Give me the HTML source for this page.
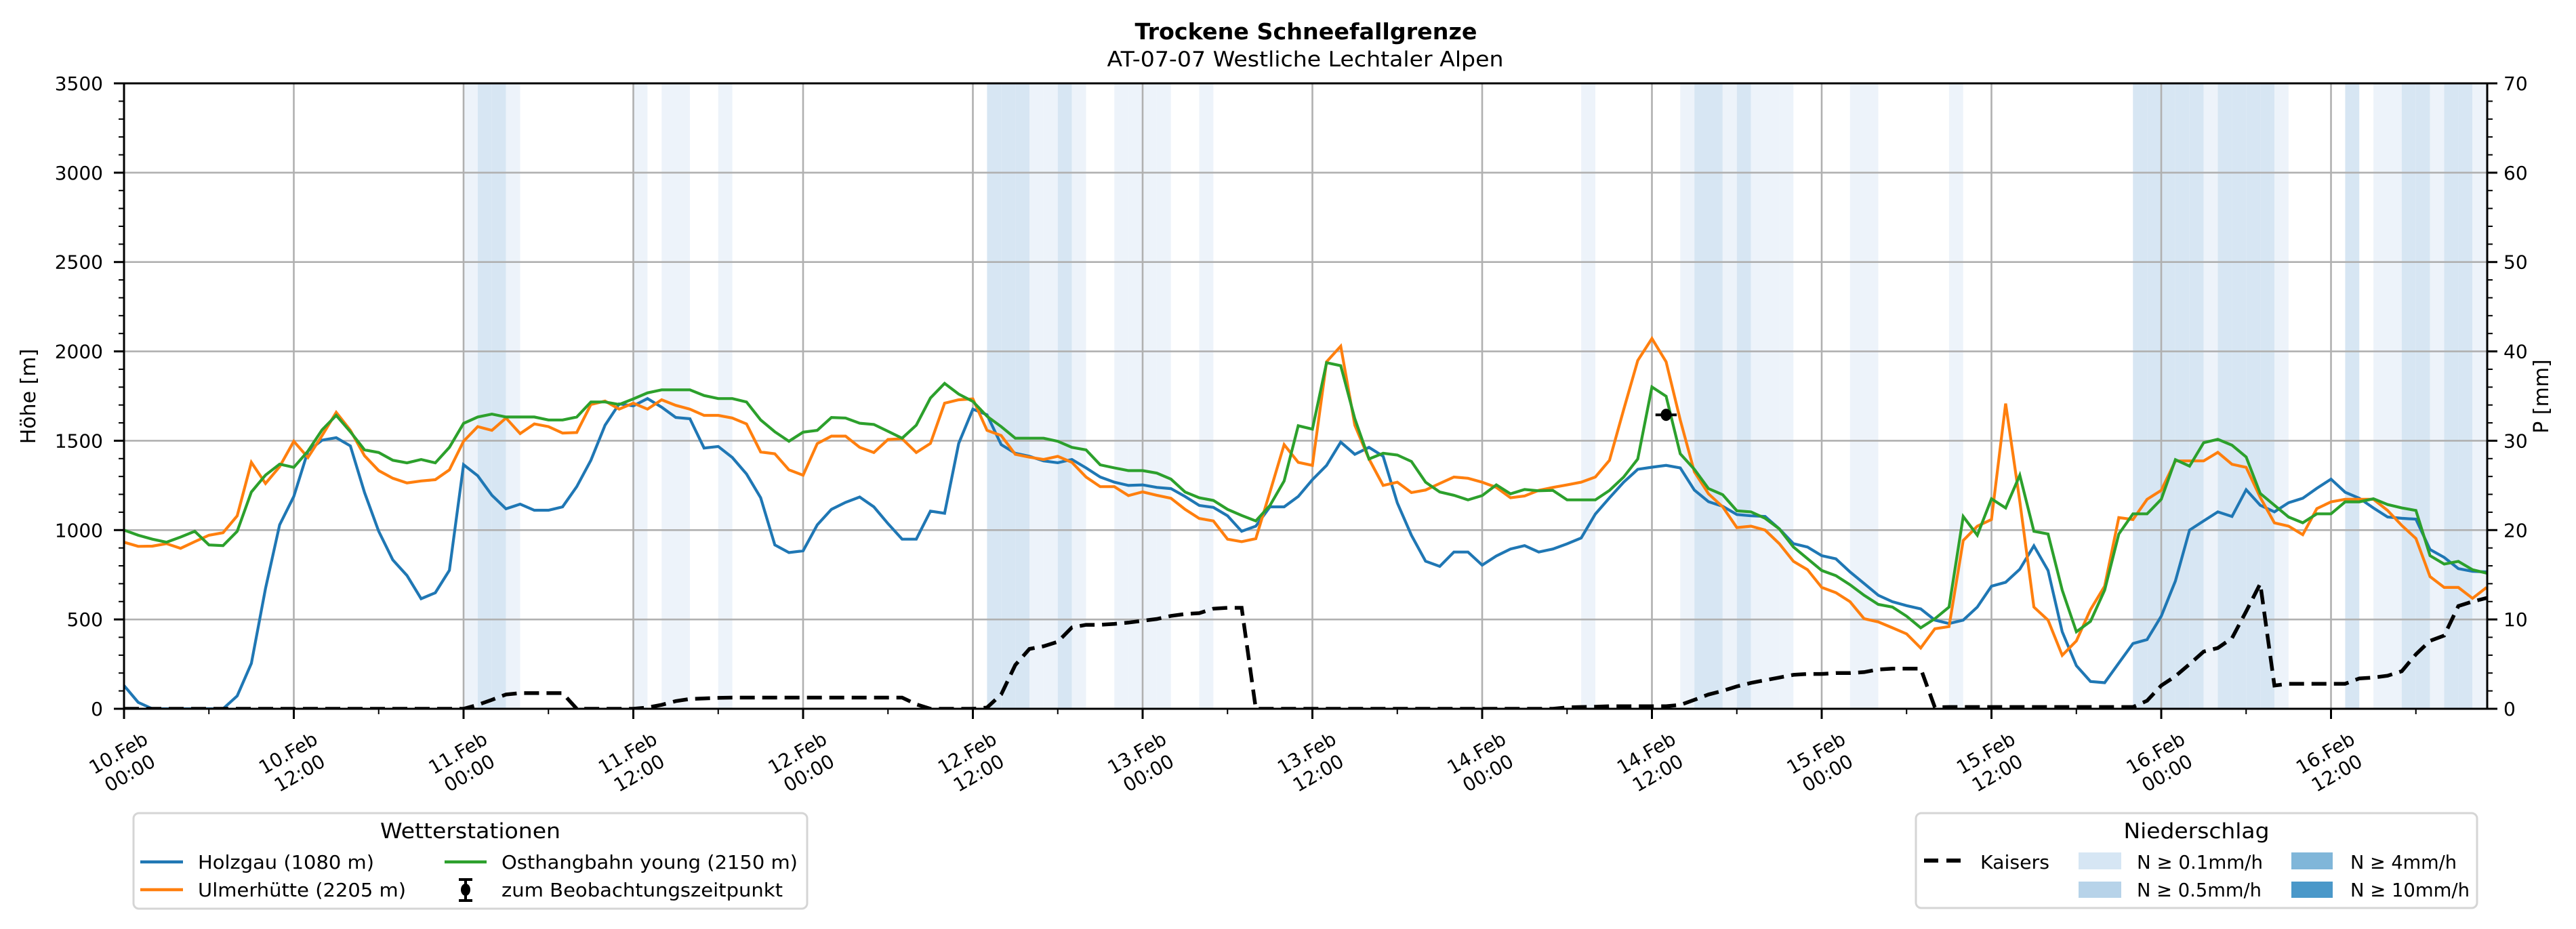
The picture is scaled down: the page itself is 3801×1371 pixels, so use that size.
<!DOCTYPE html>
<html><head><meta charset="utf-8"><title>Trockene Schneefallgrenze</title>
<style>
html,body{margin:0;padding:0;background:#fff;}
svg{display:block;font-family:"DejaVu Sans","Liberation Sans",sans-serif;}
</style></head>
<body>
<svg id="chart" xmlns="http://www.w3.org/2000/svg" width="3801" height="1371" viewBox="0 0 3801 1371">
<rect x="0" y="0" width="3801" height="1371" fill="#fff"/>
<text x="1927" y="58" text-anchor="middle" font-size="33" font-weight="bold" textLength="505" lengthAdjust="spacingAndGlyphs">Trockene Schneefallgrenze</text>
<text x="1926" y="98" text-anchor="middle" font-size="31" textLength="585" lengthAdjust="spacingAndGlyphs">AT-07-07 Westliche Lechtaler Alpen</text>
<g id="precip-layer"></g>
<g id="grid-layer"></g>
<g id="series-layer"></g>
<g id="axes-layer"></g>
<text transform="translate(52,585) rotate(-90)" text-anchor="middle" font-size="30">Höhe [m]</text>
<text transform="translate(3760,585) rotate(-90)" text-anchor="middle" font-size="30">P [mm]</text>

<g>
<rect x="197" y="1200" width="994" height="141" rx="8" fill="#fff" stroke="#d5d5d5" stroke-width="3"/>
<text x="694" y="1237" text-anchor="middle" font-size="31" textLength="266" lengthAdjust="spacingAndGlyphs">Wetterstationen</text>
<line x1="207" y1="1272" x2="270" y2="1272" stroke="#1f77b4" stroke-width="4.5"/>
<text x="292" y="1282" font-size="28" textLength="260" lengthAdjust="spacingAndGlyphs">Holzgau (1080 m)</text>
<line x1="207" y1="1313" x2="270" y2="1313" stroke="#ff7f0e" stroke-width="4.5"/>
<text x="292" y="1323" font-size="28" textLength="307" lengthAdjust="spacingAndGlyphs">Ulmerhütte (2205 m)</text>
<line x1="656" y1="1272" x2="718" y2="1272" stroke="#2ca02c" stroke-width="4.5"/>
<text x="740" y="1282" font-size="28" textLength="437" lengthAdjust="spacingAndGlyphs">Osthangbahn young (2150 m)</text>
<g stroke="#000" stroke-width="4">
<line x1="687" y1="1298" x2="687" y2="1329"/><line x1="677" y1="1298" x2="697" y2="1298"/><line x1="677" y1="1329" x2="697" y2="1329"/>
<ellipse cx="687" cy="1313" rx="7" ry="9" fill="#000" stroke="none"/></g>
<text x="740" y="1323" font-size="28" textLength="415" lengthAdjust="spacingAndGlyphs">zum Beobachtungszeitpunkt</text>
</g>

<g>
<rect x="2827" y="1200" width="828" height="140" rx="8" fill="#fff" stroke="#d5d5d5" stroke-width="3"/>
<text x="3241" y="1237" text-anchor="middle" font-size="31" textLength="215" lengthAdjust="spacingAndGlyphs">Niederschlag</text>
<line x1="2839" y1="1270" x2="2896" y2="1270" stroke="#000" stroke-width="6" stroke-dasharray="21 12"/>
<text x="2922" y="1282" font-size="28" textLength="102" lengthAdjust="spacingAndGlyphs">Kaisers</text>
<rect x="3067" y="1258" width="63" height="25" fill="#d6e6f4"/>
<text x="3153" y="1282" font-size="28" textLength="186" lengthAdjust="spacingAndGlyphs">N ≥ 0.1mm/h</text>
<rect x="3067" y="1301" width="63" height="24" fill="#b7d3e9"/>
<text x="3153" y="1323" font-size="28" textLength="184" lengthAdjust="spacingAndGlyphs">N ≥ 0.5mm/h</text>
<rect x="3381" y="1258" width="61" height="25" fill="#80b6d9"/>
<text x="3468" y="1282" font-size="28" textLength="157" lengthAdjust="spacingAndGlyphs">N ≥ 4mm/h</text>
<rect x="3381" y="1301" width="61" height="24" fill="#4a98c9"/>
<text x="3468" y="1323" font-size="28" textLength="176" lengthAdjust="spacingAndGlyphs">N ≥ 10mm/h</text>
</g>
</svg>
<script>
const holzgau = [130,36,0,0,0,0,0,0,72,254, 674,1029,1188,1442,1503,1517,1471,1210,993,833, 746,616,649,775,1366,1304,1195,1119,1145,1111, 1111,1130,1243,1391,1587,1706,1695,1736,1688,1630, 1623,1459,1468,1406,1314,1181,917,874,884,1029, 1116,1155,1185,1130,1036,949,949,1106,
1094,1485,1677,1645,1478,1430,1413,1387,1377,1395, 1348,1297,1268,1250,1253,1239,1232,1188,1138,1127, 1080,993,1022,1130,1130,1188,1282,1362,1492,1424, 1463,1413,1152,971,826,797,877,877,804,855, 894,913,877,894,923,956,1090,1181,1268,1340, 1352,1362,1348,1224,1159,1133,1087,
1080,1076,1007,924,905,857,839,766,701,635, 599,577,559,496,477,496,569,686,708,781, 912,774,431,241,153,146,256,365,387,518, 715,1000,1051,1102,1076,1226,1139,1102,1153,1178, 1234,1285,1212,1178,1124,1073,1066,1061,891,847, 784,769,766];
const ulmerhuette = [932,909,910,924,898,935,971,985,1080,1379, 1261,1355,1497,1406,1529,1659,1558,1416,1333,1290, 1264,1275,1282,1337,1497,1579,1558,1627,1540,1594, 1579,1543,1546,1703,1722,1677,1710,1677,1729,1698, 1677,1642,1642,1627,1594,1437,1427,1337,1307,1484, 1526,1526,1463,1434,1507,1511,1434,1485,
1710,1729,1734,1558,1529,1424,1408,1395,1413,1379, 1297,1243,1243,1193,1214,1195,1178,1116,1065,1051, 949,935,952,1213,1478,1379,1362,1942,2029,1587, 1398,1250,1268,1210,1224,1261,1297,1290,1268,1239, 1181,1191,1222,1239,1253,1268,1297,1391,1674,1949, 2072,1942,1616,1326,1203,1130,1014,
1022,1000,924,825,778,679,650,599,504,486, 453,419,340,448,460,942,1022,1059,1708,1161, 569,496,299,380,555,686,1070,1059,1172,1222, 1387,1387,1387,1435,1368,1351,1183,1040,1022,974, 1120,1158,1172,1172,1172,1110,1026,953,740,679, 679,618,679];
const osthangbahn = [1000,971,949,932,961,993,917,913,993,1213, 1308,1369,1351,1442,1561,1642,1550,1449,1434,1391, 1376,1395,1376,1463,1597,1633,1649,1633,1633,1633, 1616,1616,1633,1717,1717,1703,1734,1768,1785,1785, 1785,1753,1736,1736,1717,1616,1550,1497,1548,1558, 1630,1627,1598,1591,1553,1514,1587,1739,
1821,1761,1720,1637,1579,1514,1514,1514,1497,1463, 1449,1365,1348,1333,1333,1319,1285,1213,1181,1166, 1116,1082,1051,1138,1275,1584,1565,1937,1920,1623, 1398,1430,1420,1384,1268,1213,1195,1169,1193,1253, 1203,1227,1220,1222,1169,1169,1169,1222,1297,1398, 1801,1749,1427,1340,1232,1198,1108,
1102,1066,1007,905,840,774,745,694,635,584, 569,518,453,504,569,1076,971,1175,1124,1307, 993,978,664,431,489,664,978,1091,1091,1172, 1394,1358,1489,1508,1475,1409,1205,1139,1073,1041, 1091,1091,1158,1158,1175,1143,1124,1110,857,810, 825,778,759];
const kaisersMm = [0,0,0,0,0,0,0,0,0,0,0,0, 0,0,0,0,0,0,0,0,0,0,0,0,
0,0.44,1.0,1.6,1.75,1.75,1.75,1.75, 0,0,0,0,0, 0.14,0.44,0.86,1.1,1.16,1.22,
1.25,1.25,1.25,1.25,1.25,1.25,1.25,1.25,1.25,1.25,1.25,1.25,1.25, 0.5,0, 0,0,0,
0.14,1.6,4.9,6.7,7.0,7.5,9.1,9.4,9.4,9.5,9.65,9.85,10.05,10.4,10.6,10.7,11.2,11.3,11.3,
0,0,0,0,0,0,0,0,0,0,0,0,0,0,0,0,0,0,0,0,0,0,
0.15,0.2,0.23,0.29,0.29,0.29,0.29,0.29,0.43,1.0,1.6,2.0,2.5,
2.9,3.2,3.5,3.8,3.9,3.9,4.0,4.0,4.1,4.4,4.5,4.5,4.5,
0.15,0.2,0.2,0.2,0.2,0.2,0.2,0.2,0.2,0.2,0.2,0.2,0.2,0.2,0.2,
0.9,2.6,3.65,5.0,6.4,6.8,7.9,10.9,14.0,
2.6,2.8,2.8,2.8,2.8,2.8,3.4,3.5,3.7,4.2,6.1,7.6,8.2,11.5,12.0,12.4];
const precipLevel = [0,0,0,0,0,0,0,0,0,0,0,0, 0,0,0,0,0,0,0,0,0,0,0,0,
1,2,2,1,0,0,0,0,0,0,0,0, 1,0,1,1,0,0,1,0,0,0,0,0, 0,0,0,0,0,0,0,0,0,0,0,0,
0,2,2,2,1,1,2,1,0,0,1,1, 1,1,0,0,1,0,0,0,0,0,0,0, 0,0,0,0,0,0,0,0,0,0,0,0,
0,0,0,0,0,0,0,1,0,0,0,0, 0,0,1,2,2,1,2,1,1,1,0,0, 0,0,1,1,0,0,0,0,0,1,0,0,
0,0,0,0,0,0,0,0,0,0,2,2, 2,2,2,1,2,2,2,2,1,0,0,0, 0,2,0,1,1,2,2,1,2,2,1,0];
const xTickLabels = ["10.Feb|00:00","10.Feb|12:00","11.Feb|00:00","11.Feb|12:00","12.Feb|00:00","12.Feb|12:00","13.Feb|00:00","13.Feb|12:00","14.Feb|00:00","14.Feb|12:00","15.Feb|00:00","15.Feb|12:00","16.Feb|00:00","16.Feb|12:00"];
const yTicks = [0,500,1000,1500,2000,2500,3000,3500];
const y2Ticks = [0,10,20,30,40,50,60,70];
const observationHour = [109];
const observationValue = [1645];
const observationErr = [0.75];

const NS = "http://www.w3.org/2000/svg";
const L = 183, R = 3670, T = 123, B = 1046;
const HOUR_PX = 20.875;
const xs = h => L + h * HOUR_PX;
const ys = v => B - v * (B - T) / 3500;
const ys2 = v => B - v * (B - T) / 70;
function mk(tag, attrs, parent) {
  const el = document.createElementNS(NS, tag);
  for (const k in attrs) el.setAttribute(k, attrs[k]);
  parent.appendChild(el);
  return el;
}
const svg = document.getElementById('chart');
const defs = mk('defs', {}, svg);
const cp = mk('clipPath', {id: 'plotclip'}, defs);
mk('rect', {x: L, y: T, width: R - L, height: B - T}, cp);

// precipitation bands
const pLayer = document.getElementById('precip-layer');
const bandColors = [null, '#edf3fa', '#d7e6f3'];
precipLevel.forEach((lv, h) => {
  if (!lv) return;
  const x0 = xs(h), x1 = Math.min(xs(h + 1), R);
  const r = mk('rect', {x: x0, y: T, width: x1 - x0, height: B - T, fill: bandColors[lv]}, pLayer);
  
  
});

// grid
const gLayer = document.getElementById('grid-layer');
xTickLabels.forEach((lab, i) => {
  const x = xs(i * 12);
  const g = mk('line', {x1: x, y1: T, x2: x, y2: B, stroke: '#b0b0b0', 'stroke-width': 2.6}, gLayer);
  
  
});
yTicks.forEach(v => {
  const y = ys(v);
  const g = mk('line', {x1: L, y1: y, x2: R, y2: y, stroke: '#b0b0b0', 'stroke-width': 2.6}, gLayer);
  
  
});

// series
const sLayer = document.getElementById('series-layer');
sLayer.setAttribute('clip-path', 'url(#plotclip)');
function poly(arr, scale, color, width, name, dash) {
  const pts = arr.map((v, h) => xs(h).toFixed(1) + ',' + scale(v).toFixed(1)).join(' ');
  const attrs = {points: pts, fill: 'none', stroke: color, 'stroke-width': width, 'stroke-linejoin': 'miter'};
  if (dash) attrs['stroke-dasharray'] = dash;
  const p = mk('polyline', attrs, sLayer);
  
  
}
poly(holzgau, ys, '#1f77b4', 4.2, 'holzgau-line');
poly(ulmerhuette, ys, '#ff7f0e', 4.2, 'ulmerhuette-line');
poly(osthangbahn, ys, '#2ca02c', 4.2, 'osthangbahn-line');
poly(kaisersMm, ys2, '#000', 5.5, 'kaisers-precip-line', '22 11');

observationHour.forEach((h, i) => {
  const cy = ys(observationValue[i]);
  const ln = mk('line', {x1: xs(h - observationErr[i]), y1: cy, x2: xs(h + observationErr[i]), y2: cy, stroke: '#000', 'stroke-width': 4}, sLayer);
  
  
  const c = mk('ellipse', {cx: xs(h), cy: cy, rx: 8, ry: 9, fill: '#000'}, sLayer);
  
  
});

// axes
const aLayer = document.getElementById('axes-layer');
const frame = mk('rect', {x: L, y: T, width: R - L, height: B - T, fill: 'none', stroke: '#000', 'stroke-width': 3}, aLayer);


for (let v = 0; v <= 3500; v += 100) {
  const major = v % 500 === 0;
  const t = mk('line', {x1: L - (major ? 15 : 8), y1: ys(v), x2: L, y2: ys(v), stroke: '#000', 'stroke-width': major ? 3 : 2}, aLayer);
  
  
}
yTicks.forEach(v => {
  const t = mk('text', {x: 152, y: ys(v) + 10, 'text-anchor': 'end', 'font-size': 28}, aLayer);
  t.textContent = String(v);
  
  
});
for (let v = 0; v <= 70; v += 2) {
  const major = v % 10 === 0;
  const t = mk('line', {x1: R, y1: ys2(v), x2: R + (major ? 15 : 8), y2: ys2(v), stroke: '#000', 'stroke-width': major ? 3 : 2}, aLayer);
  
  
}
y2Ticks.forEach(v => {
  const t = mk('text', {x: 3694, y: ys2(v) + 10, 'font-size': 28}, aLayer);
  t.textContent = String(v);
  
  
});
for (let h = 0; h <= 167; h += 6) {
  const major = h % 12 === 0;
  const t = mk('line', {x1: xs(h), y1: B, x2: xs(h), y2: B + (major ? 15 : 8), stroke: '#000', 'stroke-width': major ? 3 : 2}, aLayer);
  
  
}
xTickLabels.forEach((lab, i) => {
  const parts = lab.split('|');
  const cx = xs(i * 12), cy = 1126;
  const g = mk('g', {transform: 'translate(' + cx + ',' + cy + ') rotate(-30)'}, aLayer);
  
  
  const t1 = mk('text', {x: 0, y: -7, 'text-anchor': 'middle', 'font-size': 28}, g);
  t1.textContent = parts[0];
  const t2 = mk('text', {x: 0, y: 27, 'text-anchor': 'middle', 'font-size': 28}, g);
  t2.textContent = parts[1];
});
</script>
</body></html>
